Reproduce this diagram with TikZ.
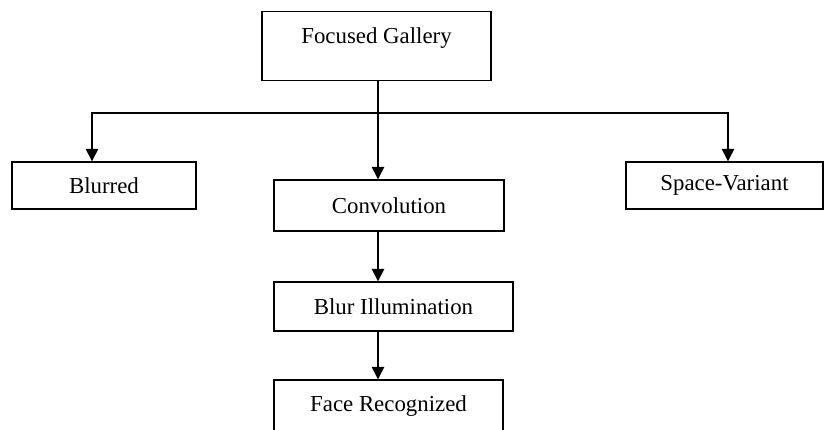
\documentclass[tikz,border=0pt]{standalone}
\usepackage{fontspec}
\setmainfont{Liberation Serif}
\usetikzlibrary{arrows.meta,positioning,calc}

\begin{document}
\begin{tikzpicture}[>={Triangle[width=7pt,length=7pt]}, line width=0.8pt,
     box/.style={draw, rectangle, inner sep=0pt, font=\fontsize{13}{15}\selectfont}]
    \useasboundingbox (0,0) rectangle (16.5,-8.6);
    \node[box, minimum width=4.58cm, text height=0.64cm, text depth=0.74cm] (gallery) at (7.53, -0.22) [anchor=north] {Focused Gallery};
    \node[box, minimum width=3.68cm, minimum height=0.94cm] (blurred) at (2.08, -3.71) {Blurred};
    \node[box, minimum width=4.6cm, minimum height=1.02cm] (conv) at (7.78, -4.11) {Convolution};
    \node[box, minimum width=3.94cm, minimum height=0.94cm] (space) at (14.49, -3.71) {Space-Variant};
    \node[box, minimum width=4.78cm, minimum height=0.98cm] (illum) at (7.87, -6.13) {Blur Illumination};
    \node[box, minimum width=4.58cm, minimum height=1.04cm] (face) at (7.77, -8.12) {Face Recognized};
    \coordinate (bar) at (7.56, -2.26);
    % tree from the top box
    \draw[->] (bar |- gallery.south) -- (bar |- conv.north);
    \draw[->] (bar) -| ([xshift=-0.24cm]blurred.north);
    \draw[->] (bar) -| ([xshift=0.07cm]space.north);
    % chain down the middle
    \draw[->] (bar |- conv.south) -- (bar |- illum.north);
    \draw[->] (bar |- illum.south) -- (bar |- face.north);
\end{tikzpicture}
\end{document}
